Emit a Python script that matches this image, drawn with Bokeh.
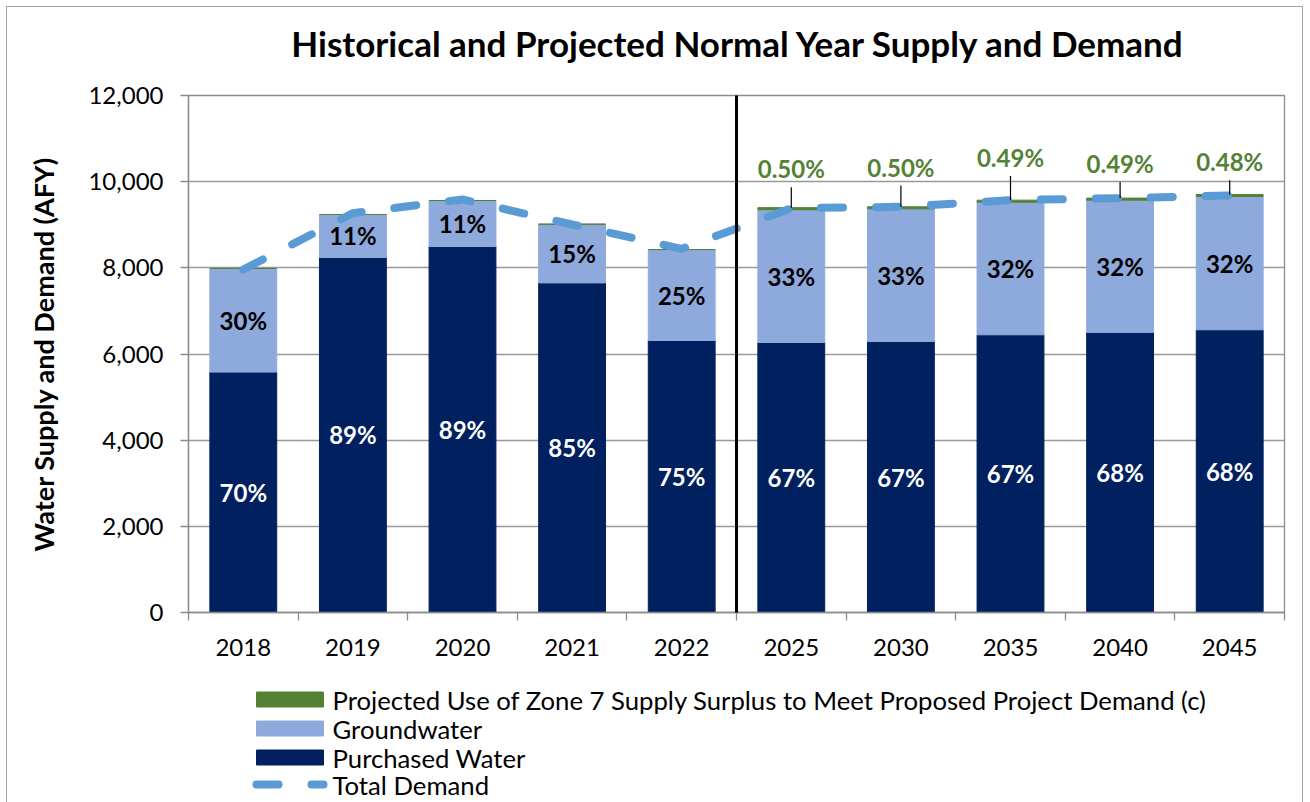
from bokeh.plotting import figure
from bokeh.layouts import column
from bokeh.models import (ColumnDataSource, FixedTicker, NumeralTickFormatter, Arrow, Range1d)
from bokeh.core.properties import value
from bokeh.embed import file_html
from bokeh.resources import INLINE

# ---------------- data ----------------
years = ["2018", "2019", "2020", "2021", "2022", "2025", "2030", "2035", "2040", "2045"]
n_historical = 5
purchased = [5580, 8240, 8495, 7650, 6313, 6267, 6290, 6446, 6500, 6562]
groundwater = [2405, 998, 1068, 1363, 2112, 3083, 3080, 3078, 3071, 3094]
zone7_surplus = [0, 0, 0, 0, 0, 47, 47, 47, 47, 47]
total_demand = [7960, 9270, 9587, 9006, 8442, 9384, 9416, 9571, 9617, 9679]
purchased_pct = ["70%", "89%", "89%", "85%", "75%", "67%", "67%", "67%", "68%", "68%"]
groundwater_pct = ["30%", "11%", "11%", "15%", "25%", "33%", "33%", "32%", "32%", "32%"]
surplus_pct = ["", "", "", "", "", "0.50%", "0.50%", "0.49%", "0.49%", "0.48%"]
y_ticks = [0, 2000, 4000, 6000, 8000, 10000, 12000]
title_text = "Historical and Projected Normal Year Supply and Demand"
y_title = "Water Supply and Demand (AFY)"
legend_labels = ["Projected Use of Zone 7 Supply Surplus to Meet Proposed Project Demand (c)",
                 "Groundwater", "Purchased Water", "Total Demand"]

# label placement (styling, in axis units)
surplus_label_y = [0, 0, 0, 0, 0, 10300, 10340, 10560, 10420, 10460]
leader_gap = 430

FONT = "Lato"
NAVY = "#002060"
GW = "#8EA9DB"
GREEN = "#548235"
LINE = "#5B9BD5"
AXIS = "#8c8c8c"
LINE_KW = dict(line_color=LINE, line_width=8, line_dash="22 33", line_cap="round")
W = 1295
BL, BR = 181, 18          # borders left / right of the plotting frame
PAGE_X0 = 7               # left margin of the layout on the page


def blank(height):
    # panel whose x units are page pixels (frames of a column are aligned)
    f = figure(width=W, height=height,
               x_range=Range1d(PAGE_X0 + BL, PAGE_X0 + W - BR),
               y_range=Range1d(height, 0),
               output_backend="svg", toolbar_location=None, x_axis_type=None,
               y_axis_type=None, min_border=0, min_border_left=BL,
               min_border_right=BR, title=None)
    f.grid.visible = False
    f.outline_line_color = None
    return f


# ---------------- title panel ----------------
tp = blank(70)
tp.text([738], [35], text=[title_text], text_font=value(FONT), text_font_style="bold",
        text_font_size="35px", text_align="center", text_baseline="middle",
        text_color="black")

# ---------------- main chart ----------------
xs = list(range(len(years)))
src = ColumnDataSource(dict(x=xs, purchased=purchased, groundwater=groundwater,
                            surplus=zone7_surplus))

p = figure(width=W, height=597, x_range=Range1d(-0.5, len(years) - 0.5),
           y_range=Range1d(0, 12000), output_backend="svg", toolbar_location=None,
           min_border_left=BL, min_border_right=BR, min_border_top=18,
           min_border_bottom=62, title=None)

p.vbar_stack(["purchased", "groundwater", "surplus"], x="x", width=0.61,
             color=[NAVY, GW, GREEN], source=src)

p.line(xs, total_demand, **LINE_KW)

pur_mid = [v / 2 for v in purchased]
gw_mid = [pv + g / 2 for pv, g in zip(purchased, groundwater)]
p.text(xs, pur_mid, text=purchased_pct, text_color="white", text_font=value(FONT),
       text_font_style="bold", text_font_size="24px", text_align="center",
       text_baseline="middle")
p.text(xs, gw_mid, text=groundwater_pct, text_color="black", text_font=value(FONT),
       text_font_style="bold", text_font_size="24px", text_align="center",
       text_baseline="middle")

proj = [i for i in xs if zone7_surplus[i] > 0]
top_vals = [purchased[i] + groundwater[i] + zone7_surplus[i] for i in proj]
p.segment(proj, [surplus_label_y[i] - leader_gap for i in proj],
          proj, top_vals, line_color="black", line_width=1.2)
p.text(proj, [surplus_label_y[i] for i in proj], text=[surplus_pct[i] for i in proj],
       text_color=GREEN, text_font=value(FONT), text_font_style="bold",
       text_font_size="24px", text_align="center", text_baseline="middle")

sep_x = n_historical - 0.5
p.add_layout(Arrow(end=None, x_start=sep_x, y_start=12050, x_end=sep_x, y_end=-650,
                   line_color="black", line_width=3))

p.xgrid.visible = False
p.ygrid.ticker = FixedTicker(ticks=y_ticks)
p.ygrid.grid_line_color = "#999999"
p.ygrid.grid_line_width = 1.3
p.outline_line_color = AXIS
p.outline_line_width = 1.3

p.yaxis.ticker = FixedTicker(ticks=y_ticks)
p.yaxis.formatter = NumeralTickFormatter(format="0,0")
p.yaxis.axis_line_color = AXIS
p.yaxis.axis_line_width = 1.3
p.yaxis.major_tick_line_color = AXIS
p.yaxis.major_tick_line_width = 1.3
p.yaxis.major_tick_out = 8
p.yaxis.major_tick_in = 0
p.yaxis.minor_tick_line_color = None
p.yaxis.major_label_standoff = 17
p.yaxis.major_label_text_font = FONT
p.yaxis.major_label_text_font_size = "24px"
p.yaxis.major_label_text_color = "black"
p.yaxis.axis_label = y_title
p.yaxis.axis_label_text_font = FONT
p.yaxis.axis_label_text_font_style = "bold"
p.yaxis.axis_label_text_font_size = "27px"
p.yaxis.axis_label_text_color = "black"
p.yaxis.axis_label_standoff = 25

p.xaxis.ticker = FixedTicker(ticks=xs, minor_ticks=[i - 0.5 for i in range(len(years) + 1)])
p.xaxis.major_label_overrides = {i: y for i, y in zip(xs, years)}
p.xaxis.axis_line_color = AXIS
p.xaxis.axis_line_width = 1.3
p.xaxis.major_tick_line_color = None
p.xaxis.major_tick_out = 0
p.xaxis.major_tick_in = 0
p.xaxis.minor_tick_line_color = AXIS
p.xaxis.minor_tick_line_width = 1.3
p.xaxis.minor_tick_out = 8
p.xaxis.minor_tick_in = 0
p.xaxis.major_label_standoff = 18
p.xaxis.major_label_text_font = FONT
p.xaxis.major_label_text_font_size = "24px"
p.xaxis.major_label_text_color = "black"

# ---------------- legend panel ----------------
lg = blank(128)
row_y = [25, 54, 83, 110]
sw_left, sw_right, sw_h = 256, 323, 15
sw_colors = [GREEN, GW, NAVY]
lg.quad(left=[sw_left] * 3, right=[sw_right] * 3,
        top=[y - sw_h / 2 for y in row_y[:3]], bottom=[y + sw_h / 2 for y in row_y[:3]],
        color=sw_colors)
lg.line([sw_left, sw_right], [row_y[3], row_y[3]], **LINE_KW)
lg.text([332] * 4, row_y, text=legend_labels, text_font=value(FONT),
        text_font_size="25.7px", text_align="left", text_baseline="middle",
        text_color="black")

layout = column(tp, p, lg, spacing=0, margin=(7, 0, 0, 7),
                styles={"outline": "1px solid #a6a6a6"})

open("out.html", "w").write(file_html(layout, INLINE))
